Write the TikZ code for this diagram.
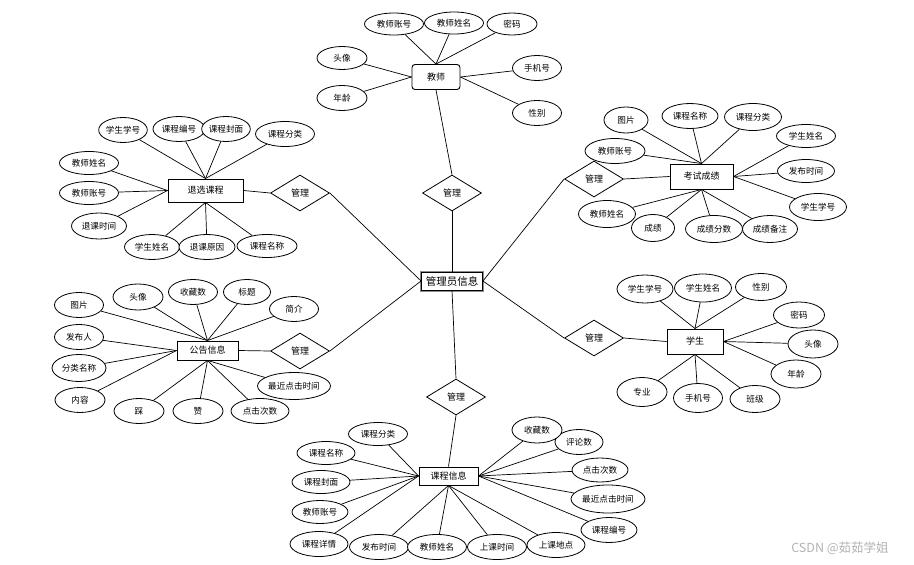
\documentclass[tikz,border=0pt]{standalone}
\usepackage{fontspec}
\setmainfont{Noto Sans CJK SC}
\usetikzlibrary{shapes.geometric}
\begin{document}
\begin{tikzpicture}[x=1pt,y=-1pt,
  attr/.style={ellipse,draw,line width=0.8pt,inner sep=0pt,fill=white,font=\fontsize{8.6}{9}\selectfont},
  ent/.style={rectangle,draw,line width=0.95pt,inner sep=0pt,fill=white,font=\fontsize{9}{10}\selectfont},
  rel/.style={diamond,draw,line width=0.8pt,inner sep=0pt,fill=white,minimum width=59pt,minimum height=36pt,font=\fontsize{9}{10}\selectfont},
  lk/.style={line width=0.7pt},
  sz/.style 2 args={minimum width=#1pt,minimum height=#2pt}]
\path[use as bounding box] (0,0) rectangle (914,565);

% ---------- centre ----------
\node[rectangle,draw=black!45,line width=2pt,minimum width=62pt,minimum height=19pt] (Mbg) at (452,281) {};
\node[ent,line width=0.9pt,sz={61}{18},font=\fontsize{10.5}{11}\selectfont] (M) at (452,281) {管理员信息};

% ---------- relationships ----------
\node[rel] (R1) at (452,193) {管理};
\node[rel] (R2) at (300,193) {管理};
\node[rel] (R3) at (300,351) {管理};
\node[rel] (R4) at (456,397) {管理};
\node[rel] (R5) at (594,179) {管理};
\node[rel] (R6) at (594,338) {管理};

% ---------- teacher ----------
\node[ent,rounded corners=3pt,line width=0.9pt,sz={48}{25}] (T) at (436,77) {教师};
\node[attr,sz={59}{22}] (T1) at (394,24) {教师账号};
\node[attr,sz={59}{22}] (T2) at (454,23) {教师姓名};
\node[attr,sz={50}{22}] (T3) at (512,24) {密码};
\node[attr,sz={50}{23}] (T4) at (342,58) {头像};
\node[attr,sz={50}{25}] (T5) at (342,98) {年龄};
\node[attr,sz={49}{25}] (T6) at (537,68) {手机号};
\node[attr,sz={49}{25}] (T7) at (537,113) {性别};

% ---------- 退选课程 ----------
\node[ent,sz={75}{23}] (Q) at (205.5,190.5) {退选课程};
\node[attr,sz={48}{25}] (Q1) at (123,130) {学生学号};
\node[attr,sz={52}{25}] (Q2) at (179,129) {课程编号};
\node[attr,sz={46}{25}] (Q3) at (226,129) {课程封面};
\node[attr,sz={59}{25}] (Q4) at (285,134) {课程分类};
\node[attr,sz={59}{23}] (Q5) at (89,163) {教师姓名};
\node[attr,sz={59}{23}] (Q6) at (89,193) {教师账号};
\node[attr,sz={55}{26}] (Q7) at (99,226) {退课时间};
\node[attr,sz={55}{25}] (Q8) at (152,247) {学生姓名};
\node[attr,sz={56}{25}] (Q9) at (207,247) {退课原因};
\node[attr,sz={60}{23}] (Q10) at (267,246) {课程名称};

% ---------- 考试成绩 ----------
\node[ent,sz={63}{25}] (K) at (701.5,176.5) {考试成绩};
\node[attr,sz={44}{26}] (K1) at (626,120) {图片};
\node[attr,sz={56}{25}] (K2) at (690,116) {课程名称};
\node[attr,sz={57}{27}] (K3) at (753,117) {课程分类};
\node[attr,sz={59}{23}] (K4) at (806,136) {学生姓名};
\node[attr,sz={57}{23}] (K5) at (806,171) {发布时间};
\node[attr,sz={57}{27}] (K6) at (818,207) {学生学号};
\node[attr,sz={60}{25}] (K7) at (615,151) {教师账号};
\node[attr,sz={57}{27}] (K8) at (607,214) {教师姓名};
\node[attr,sz={43}{27}] (K9) at (653,228) {成绩};
\node[attr,sz={57}{27}] (K10) at (714,229) {成绩分数};
\node[attr,sz={55}{27}] (K11) at (770,229) {成绩备注};

% ---------- 公告信息 ----------
\node[ent,sz={61}{19}] (G) at (207.5,350.5) {公告信息};
\node[attr,sz={49}{25}] (G1) at (79,305) {图片};
\node[attr,sz={50}{26}] (G2) at (138,297) {头像};
\node[attr,sz={49}{25}] (G3) at (193,292) {收藏数};
\node[attr,sz={47}{25}] (G4) at (247,292) {标题};
\node[attr,sz={49}{25}] (G5) at (294,309) {简介};
\node[attr,sz={49}{25}] (G6) at (79,337) {发布人};
\node[attr,sz={54}{27}] (G7) at (79,368) {分类名称};
\node[attr,sz={50}{25}] (G8) at (80,400) {内容};
\node[attr,sz={50}{25}] (G9) at (139,411) {踩};
\node[attr,sz={50}{25}] (G10) at (198,411) {赞};
\node[attr,sz={58}{25}] (G11) at (260,411) {点击次数};
\node[attr,sz={65}{27}] (G12) at (294,386) {最近点击时间};

% ---------- 学生 ----------
\node[ent,sz={56}{25}] (S) at (695,341.5) {学生};
\node[attr,sz={56}{28}] (S1) at (645,289) {学生学号};
\node[attr,sz={57}{28}] (S2) at (703,288) {学生姓名};
\node[attr,sz={51}{27}] (S3) at (761,287) {性别};
\node[attr,sz={51}{26}] (S4) at (799,315) {密码};
\node[attr,sz={50}{28}] (S5) at (813,344) {头像};
\node[attr,sz={50}{28}] (S6) at (796,374) {年龄};
\node[attr,sz={50}{29}] (S7) at (642,392) {专业};
\node[attr,sz={49}{29}] (S8) at (698,398) {手机号};
\node[attr,sz={50}{27}] (S9) at (755,399) {班级};

% ---------- 课程信息 ----------
\node[ent,sz={59}{18}] (C) at (448.5,476) {课程信息};
\node[attr,sz={59}{23}] (C1) at (378,434) {课程分类};
\node[attr,sz={58}{23}] (C2) at (326,453) {课程名称};
\node[attr,sz={58}{23}] (C3) at (321,482) {课程封面};
\node[attr,sz={56}{23}] (C4) at (320,512) {教师账号};
\node[attr,sz={58}{25}] (C5) at (319,544) {课程详情};
\node[attr,sz={59}{25}] (C6) at (379,547) {发布时间};
\node[attr,sz={59}{25}] (C7) at (437,547) {教师姓名};
\node[attr,sz={59}{25}] (C8) at (497,547) {上课时间};
\node[attr,sz={58}{25}] (C9) at (556,545) {上课地点};
\node[attr,sz={56}{25}] (C10) at (609,530) {课程编号};
\node[attr,sz={74}{28}] (C11) at (608,499) {最近点击时间};
\node[attr,sz={56}{24}] (C12) at (600,470) {点击次数};
\node[attr,sz={48}{25}] (C13) at (579,442) {评论数};
\node[attr,sz={50}{26}] (C14) at (537,430) {收藏数};

% ---------- connectors ----------
\begin{scope}[lk]
% centre to relationships
\draw (M.north) -- (R1.south);
\draw (M.west) -- (R2.east);
\draw (M.west) -- (R3.east);
\draw (M.south) -- (R4.north);
\draw (M.east) -- (R5.west);
\draw (M.east) -- (R6.west);
% relationships to entities
\draw (R1.north) -- (T.south);
\draw (R2.west) -- (Q.east);
\draw (R3.west) -- (G.east);
\draw (R4.south) -- (C.north);
\draw (R5.east) -- (K.west);
\draw (R6.east) -- (S.west);
% teacher
\foreach \a in {T1,T2,T3} \draw (\a) -- (T.north);
\foreach \a in {T4,T5} \draw (\a) -- (T.west);
\foreach \a in {T6,T7} \draw (\a) -- (T.east);
% 退选课程
\foreach \a in {Q1,Q2,Q3,Q4} \draw (\a) -- (Q.north);
\foreach \a in {Q5,Q6,Q7} \draw (\a) -- (Q.west);
\foreach \a in {Q8,Q9,Q10} \draw (\a) -- (Q.south);
% 考试成绩
\foreach \a in {K1,K2,K3,K7} \draw (\a) -- (K.north);
\foreach \a in {K4,K5,K6} \draw (\a) -- (K.east);
\foreach \a in {K8,K9,K10,K11} \draw (\a) -- (K.south);
% 公告信息
\foreach \a in {G1,G2,G3,G4,G5} \draw (\a) -- (G.north);
\foreach \a in {G6,G7,G8} \draw (\a) -- (G.west);
\foreach \a in {G9,G10,G11,G12} \draw (\a) -- (G.south);
% 学生
\foreach \a in {S1,S2,S3} \draw (\a) -- (S.north);
\foreach \a in {S4,S5,S6} \draw (\a) -- (S.east);
\foreach \a in {S7,S8,S9} \draw (\a) -- (S.south);
% 课程信息
\foreach \a in {C1,C2,C3,C4,C5} \draw (\a) -- (C.west);
\foreach \a in {C6,C7,C8,C9} \draw (\a) -- (C.south);
\foreach \a in {C10,C11,C12,C13,C14} \draw (\a) -- (C.east);
\end{scope}

% watermark
\node[text=black!30,font=\fontsize{12.5}{13}\selectfont,inner sep=0pt] (wm) at (840,548) {CSDN @茹茹学姐};
\end{tikzpicture}
\end{document}
